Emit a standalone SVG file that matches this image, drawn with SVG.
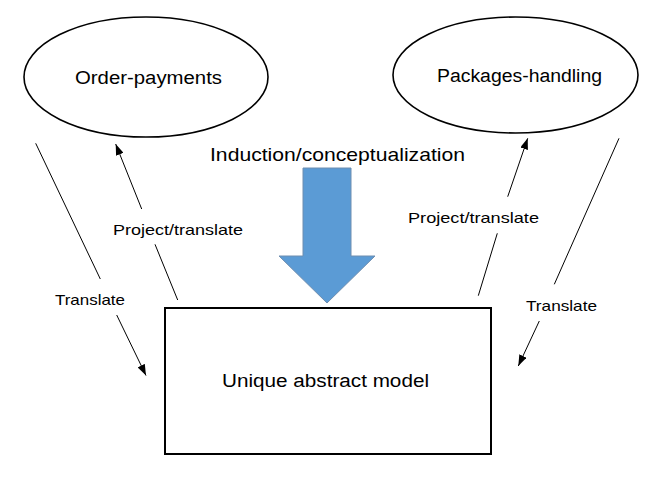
<svg xmlns="http://www.w3.org/2000/svg" width="650" height="477" viewBox="0 0 650 477">
<style>
  .node { fill: #ffffff; stroke: #000000; }
  .lbl { font-family: "Liberation Sans", Arial, sans-serif; fill: #000000; }
  .big { font-size: 18px; }
  .small { font-size: 15px; }
  .conn { fill: none; stroke: #000000; stroke-width: 1; marker-end: url(#ah); }
</style>
<defs>
  <marker id="ah" markerUnits="userSpaceOnUse" markerWidth="11" markerHeight="8" refX="11" refY="4" orient="auto">
    <path d="M0,0 L11,4 L0,8 Z" fill="#000000"/>
  </marker>
</defs>
<rect x="0" y="0" width="650" height="477" fill="#ffffff"/>

<g id="order-payments">
  <ellipse class="node" cx="146" cy="77" rx="122" ry="60" stroke-width="1.6"/>
  <text class="lbl big" x="75" y="84" textLength="147" lengthAdjust="spacingAndGlyphs">Order-payments</text>
</g>

<g id="packages-handling">
  <ellipse class="node" cx="515.5" cy="75" rx="122.5" ry="58" stroke-width="1.6"/>
  <text class="lbl big" x="437" y="81.5" textLength="165" lengthAdjust="spacingAndGlyphs">Packages-handling</text>
</g>

<g id="induction">
  <text class="lbl" font-size="19" x="210" y="160.5" textLength="255" lengthAdjust="spacingAndGlyphs">Induction/conceptualization</text>
  <polygon points="303,168 351,168 351,256 375,256 327,303 279,256 303,256" fill="#5B9BD5" stroke="#6F8EB0" stroke-width="1"/>
</g>

<g id="abstract-model">
  <rect class="node" x="165" y="308" width="326" height="146" stroke-width="2"/>
  <text class="lbl big" x="222" y="387" textLength="207" lengthAdjust="spacingAndGlyphs">Unique abstract model</text>
</g>

<g id="connectors">
  <path class="conn" d="M35.7,143.3 L100.3,279 M116.7,315 L146,375.5"/>
  <path class="conn" d="M177.7,300 L155,244.3 M141.7,209 L115.7,144"/>
  <path class="conn" d="M478.3,295.7 L497.3,233.3 M507.7,196.7 L527.7,138.3"/>
  <path class="conn" d="M619,138.3 L554.3,284.3 M539.3,321 L518.3,366"/>
</g>

<g id="labels">
  <text class="lbl small" x="55" y="304.5" textLength="70" lengthAdjust="spacingAndGlyphs">Translate</text>
  <text class="lbl small" x="113" y="234.5" textLength="130" lengthAdjust="spacingAndGlyphs">Project/translate</text>
  <text class="lbl small" x="408" y="223" textLength="131" lengthAdjust="spacingAndGlyphs">Project/translate</text>
  <text class="lbl small" x="526" y="310.5" textLength="71" lengthAdjust="spacingAndGlyphs">Translate</text>
</g>
</svg>
